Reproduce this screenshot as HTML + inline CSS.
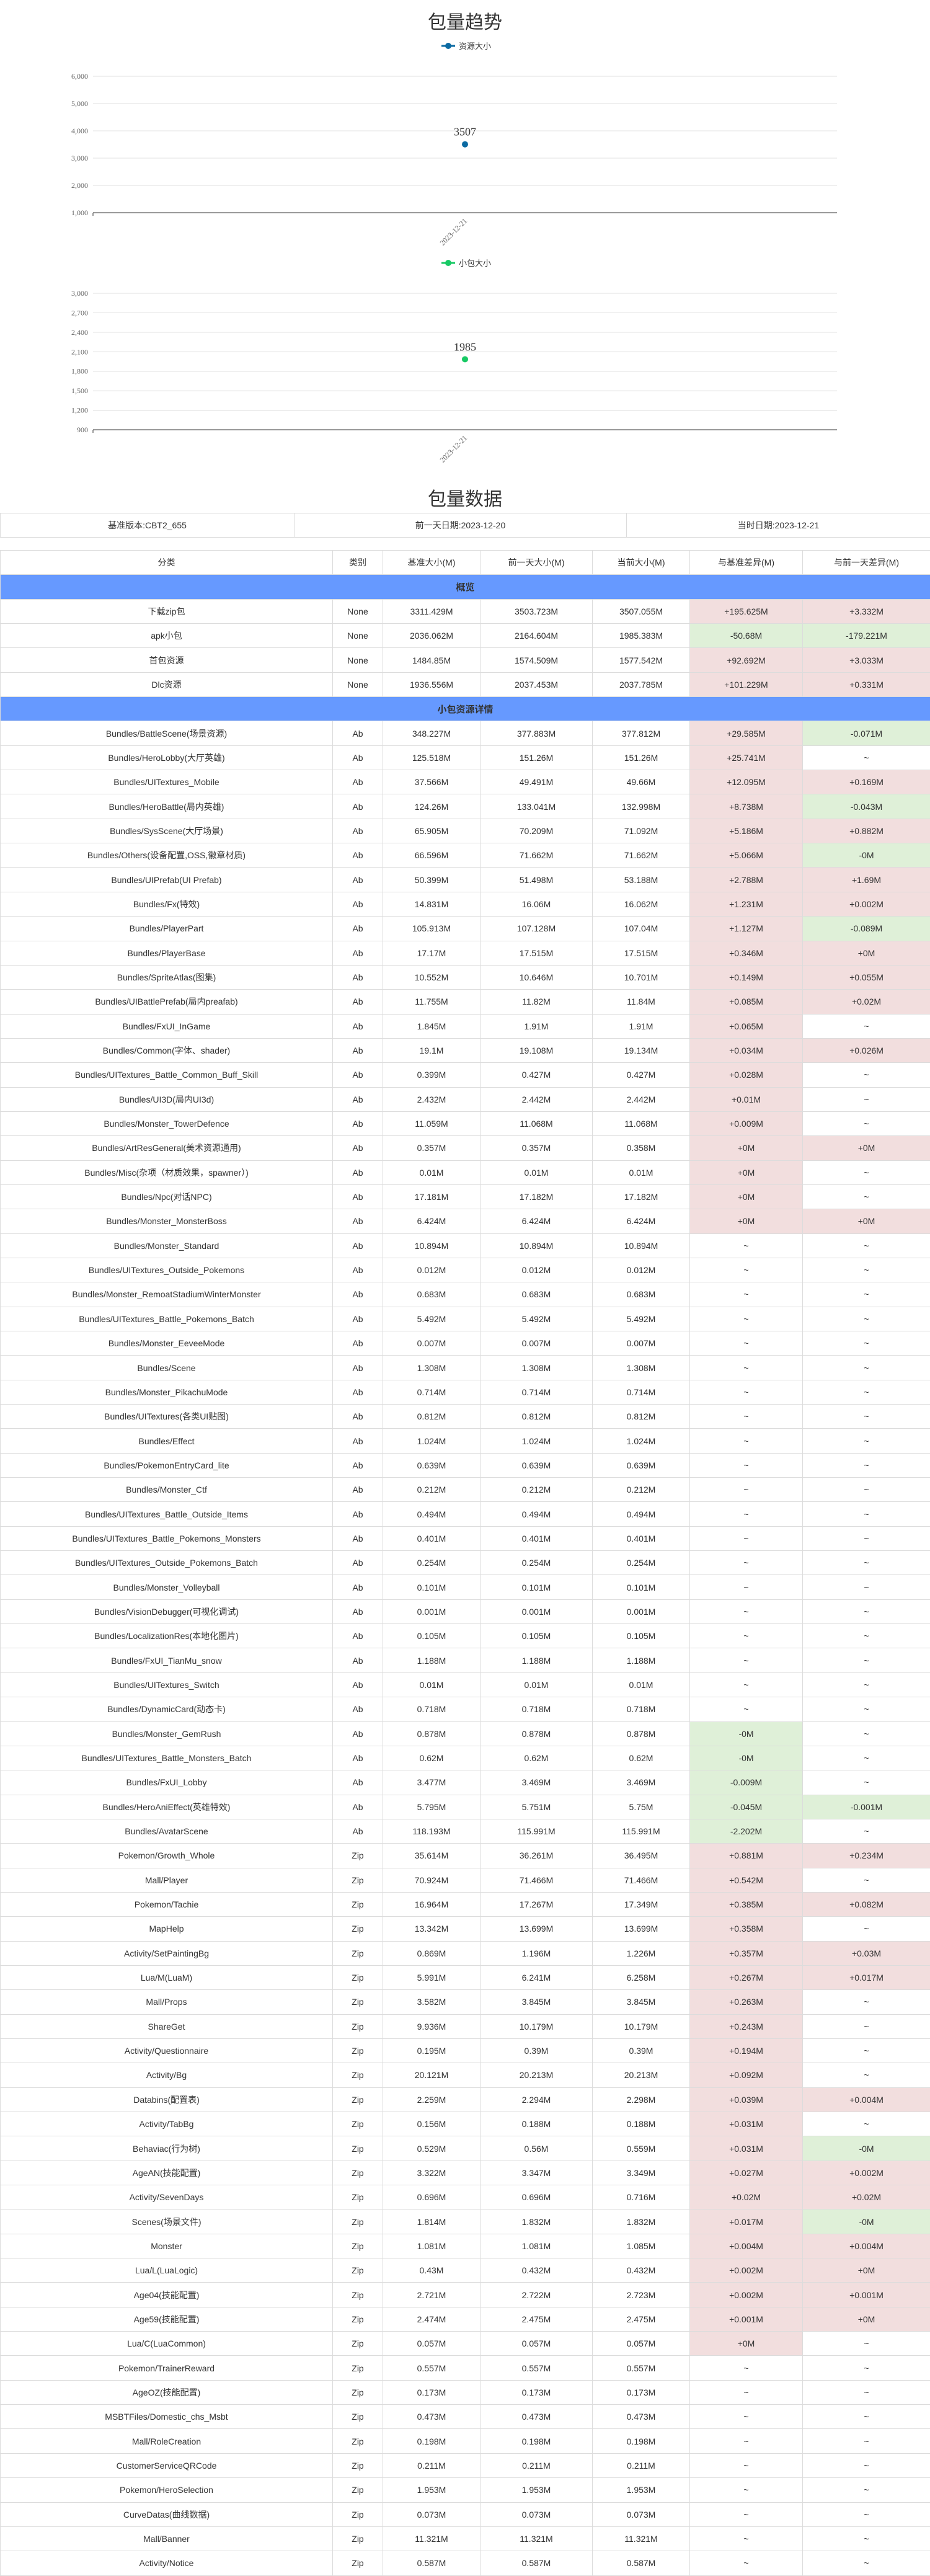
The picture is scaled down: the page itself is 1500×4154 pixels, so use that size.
<!DOCTYPE html>
<html><head><meta charset="utf-8">
<style>
body{margin:0;width:1500px;height:4100px;overflow:hidden;background:#fff;font-family:"Liberation Sans","Noto Sans CJK SC",sans-serif;color:#333}
h2{margin:0;position:absolute;left:0;width:1500px;text-align:center;font-weight:normal;font-size:30px;color:#333}
table{border-collapse:collapse;position:absolute;left:0;width:1500px;table-layout:fixed}
td,th{border:1px solid #dcdcdc;text-align:center;font-size:14px;font-weight:normal;padding:0;height:38.35px;color:#333;white-space:nowrap;overflow:hidden}
.sec td{background:#6699ff;font-weight:bold;font-size:15px}
.pos{background:#f2dede}.neg{background:#dff0d8}
</style></head><body>
<svg width="1500" height="750" style="position:absolute;left:0;top:0" font-family="Liberation Serif, Noto Sans CJK SC, serif">
<text x="750" y="46" text-anchor="middle" font-size="30" fill="#333" font-family="Liberation Sans, Noto Sans CJK SC, sans-serif">包量趋势</text>
<g id="c1"></g><g id="c2"></g>
</svg>
<h2 style="top:780px">包量数据</h2>
<table style="top:827px">
<colgroup><col style="width:474px"><col style="width:536px"><col style="width:490px"></colgroup>
<tr><td>基准版本:CBT2_655</td><td>前一天日期:2023-12-20</td><td>当时日期:2023-12-21</td></tr>
</table>
<table id="main" style="top:887px">
<colgroup><col style="width:536px"><col style="width:81px"><col style="width:157px"><col style="width:181px"><col style="width:157px"><col style="width:182px"><col style="width:206px"></colgroup>
<tr><th>分类</th><th>类别</th><th>基准大小(M)</th><th>前一天大小(M)</th><th>当前大小(M)</th><th>与基准差异(M)</th><th>与前一天差异(M)</th></tr>
</table>
<script>
const dates=["2023-12-21"];
const resSizes=[3507];
const apkSizes=[1985];
const ticks1=[1000,2000,3000,4000,5000,6000];
const ticks2=[900,1200,1500,1800,2100,2400,2700,3000];
const NS="http://www.w3.org/2000/svg";
function mk(tag,attrs,parent){const e=document.createElementNS(NS,tag);for(const k in attrs)e.setAttribute(k,attrs[k]);parent.appendChild(e);return e;}
function chart(g,legendY,top,bottom,ticks,vals,color,label){
  const x0=150,x1=1350,min=ticks[0],max=ticks[ticks.length-1];
  const y=v=>bottom-(v-min)/(max-min)*(bottom-top);
  const x=i=>x0+(i+0.5)*(x1-x0)/dates.length;
  const lg=mk('g',{},g);
  
  
  mk('line',{x1:712,x2:734,y1:legendY,y2:legendY,stroke:color,'stroke-width':3},lg);
  mk('circle',{cx:723,cy:legendY,r:5,fill:color},lg);
  const lt=mk('text',{x:740,y:legendY+5,'font-size':13,fill:'#333','font-family':'Liberation Sans, Noto Sans CJK SC, sans-serif'},lg);lt.textContent=label;
  ticks.forEach((t,i)=>{
    const gl=mk('line',{x1:x0,x2:x1,y1:y(t),y2:y(t),stroke:i==0?'#333':'#e0e0e0','stroke-width':1},g);
    
    
    const tt=mk('text',{x:142,y:y(t)+4,'text-anchor':'end','font-size':12,fill:'#666'},g);
    
    
    tt.textContent=t.toLocaleString('en-US');
  });
  mk('line',{x1:x0,x2:x0,y1:bottom,y2:bottom+5,stroke:'#333'},g);
  dates.forEach((d,i)=>{
    const xt=mk('text',{x:x(i)+4,y:bottom+14,'text-anchor':'end','font-size':12,fill:'#666',transform:`rotate(-45 ${x(i)+4} ${bottom+14})`},g);
    
    
    xt.textContent=d;
  });
  vals.forEach((v,i)=>{
    const c=mk('circle',{cx:x(i),cy:y(v),r:5,fill:color},g);
    
    
    const vt=mk('text',{x:x(i),y:y(v)-14,'text-anchor':'middle','font-size':18,fill:'#333'},g);
    
    
    vt.textContent=v;
  });
}
chart(document.getElementById('c1'),74,123,343,ticks1,resSizes,'#0b6aa2','资源大小');
chart(document.getElementById('c2'),424,473,693,ticks2,apkSizes,'#17c964','小包大小');

const overview=[
"下载zip包|None|3311.429M|3503.723M|3507.055M|+195.625M|+3.332M",
"apk小包|None|2036.062M|2164.604M|1985.383M|-50.68M|-179.221M",
"首包资源|None|1484.85M|1574.509M|1577.542M|+92.692M|+3.033M",
"Dlc资源|None|1936.556M|2037.453M|2037.785M|+101.229M|+0.331M"];
const details=[
"Bundles/BattleScene(场景资源)|Ab|348.227M|377.883M|377.812M|+29.585M|-0.071M",
"Bundles/HeroLobby(大厅英雄)|Ab|125.518M|151.26M|151.26M|+25.741M|~",
"Bundles/UITextures_Mobile|Ab|37.566M|49.491M|49.66M|+12.095M|+0.169M",
"Bundles/HeroBattle(局内英雄)|Ab|124.26M|133.041M|132.998M|+8.738M|-0.043M",
"Bundles/SysScene(大厅场景)|Ab|65.905M|70.209M|71.092M|+5.186M|+0.882M",
"Bundles/Others(设备配置,OSS,徽章材质)|Ab|66.596M|71.662M|71.662M|+5.066M|-0M",
"Bundles/UIPrefab(UI Prefab)|Ab|50.399M|51.498M|53.188M|+2.788M|+1.69M",
"Bundles/Fx(特效)|Ab|14.831M|16.06M|16.062M|+1.231M|+0.002M",
"Bundles/PlayerPart|Ab|105.913M|107.128M|107.04M|+1.127M|-0.089M",
"Bundles/PlayerBase|Ab|17.17M|17.515M|17.515M|+0.346M|+0M",
"Bundles/SpriteAtlas(图集)|Ab|10.552M|10.646M|10.701M|+0.149M|+0.055M",
"Bundles/UIBattlePrefab(局内preafab)|Ab|11.755M|11.82M|11.84M|+0.085M|+0.02M",
"Bundles/FxUI_InGame|Ab|1.845M|1.91M|1.91M|+0.065M|~",
"Bundles/Common(字体、shader)|Ab|19.1M|19.108M|19.134M|+0.034M|+0.026M",
"Bundles/UITextures_Battle_Common_Buff_Skill|Ab|0.399M|0.427M|0.427M|+0.028M|~",
"Bundles/UI3D(局内UI3d)|Ab|2.432M|2.442M|2.442M|+0.01M|~",
"Bundles/Monster_TowerDefence|Ab|11.059M|11.068M|11.068M|+0.009M|~",
"Bundles/ArtResGeneral(美术资源通用)|Ab|0.357M|0.357M|0.358M|+0M|+0M",
"Bundles/Misc(杂项（材质效果，spawner）)|Ab|0.01M|0.01M|0.01M|+0M|~",
"Bundles/Npc(对话NPC)|Ab|17.181M|17.182M|17.182M|+0M|~",
"Bundles/Monster_MonsterBoss|Ab|6.424M|6.424M|6.424M|+0M|+0M",
"Bundles/Monster_Standard|Ab|10.894M|10.894M|10.894M|~|~",
"Bundles/UITextures_Outside_Pokemons|Ab|0.012M|0.012M|0.012M|~|~",
"Bundles/Monster_RemoatStadiumWinterMonster|Ab|0.683M|0.683M|0.683M|~|~",
"Bundles/UITextures_Battle_Pokemons_Batch|Ab|5.492M|5.492M|5.492M|~|~",
"Bundles/Monster_EeveeMode|Ab|0.007M|0.007M|0.007M|~|~",
"Bundles/Scene|Ab|1.308M|1.308M|1.308M|~|~",
"Bundles/Monster_PikachuMode|Ab|0.714M|0.714M|0.714M|~|~",
"Bundles/UITextures(各类UI贴图)|Ab|0.812M|0.812M|0.812M|~|~",
"Bundles/Effect|Ab|1.024M|1.024M|1.024M|~|~",
"Bundles/PokemonEntryCard_lite|Ab|0.639M|0.639M|0.639M|~|~",
"Bundles/Monster_Ctf|Ab|0.212M|0.212M|0.212M|~|~",
"Bundles/UITextures_Battle_Outside_Items|Ab|0.494M|0.494M|0.494M|~|~",
"Bundles/UITextures_Battle_Pokemons_Monsters|Ab|0.401M|0.401M|0.401M|~|~",
"Bundles/UITextures_Outside_Pokemons_Batch|Ab|0.254M|0.254M|0.254M|~|~",
"Bundles/Monster_Volleyball|Ab|0.101M|0.101M|0.101M|~|~",
"Bundles/VisionDebugger(可视化调试)|Ab|0.001M|0.001M|0.001M|~|~",
"Bundles/LocalizationRes(本地化图片)|Ab|0.105M|0.105M|0.105M|~|~",
"Bundles/FxUI_TianMu_snow|Ab|1.188M|1.188M|1.188M|~|~",
"Bundles/UITextures_Switch|Ab|0.01M|0.01M|0.01M|~|~",
"Bundles/DynamicCard(动态卡)|Ab|0.718M|0.718M|0.718M|~|~",
"Bundles/Monster_GemRush|Ab|0.878M|0.878M|0.878M|-0M|~",
"Bundles/UITextures_Battle_Monsters_Batch|Ab|0.62M|0.62M|0.62M|-0M|~",
"Bundles/FxUI_Lobby|Ab|3.477M|3.469M|3.469M|-0.009M|~",
"Bundles/HeroAniEffect(英雄特效)|Ab|5.795M|5.751M|5.75M|-0.045M|-0.001M",
"Bundles/AvatarScene|Ab|118.193M|115.991M|115.991M|-2.202M|~",
"Pokemon/Growth_Whole|Zip|35.614M|36.261M|36.495M|+0.881M|+0.234M",
"Mall/Player|Zip|70.924M|71.466M|71.466M|+0.542M|~",
"Pokemon/Tachie|Zip|16.964M|17.267M|17.349M|+0.385M|+0.082M",
"MapHelp|Zip|13.342M|13.699M|13.699M|+0.358M|~",
"Activity/SetPaintingBg|Zip|0.869M|1.196M|1.226M|+0.357M|+0.03M",
"Lua/M(LuaM)|Zip|5.991M|6.241M|6.258M|+0.267M|+0.017M",
"Mall/Props|Zip|3.582M|3.845M|3.845M|+0.263M|~",
"ShareGet|Zip|9.936M|10.179M|10.179M|+0.243M|~",
"Activity/Questionnaire|Zip|0.195M|0.39M|0.39M|+0.194M|~",
"Activity/Bg|Zip|20.121M|20.213M|20.213M|+0.092M|~",
"Databins(配置表)|Zip|2.259M|2.294M|2.298M|+0.039M|+0.004M",
"Activity/TabBg|Zip|0.156M|0.188M|0.188M|+0.031M|~",
"Behaviac(行为树)|Zip|0.529M|0.56M|0.559M|+0.031M|-0M",
"AgeAN(技能配置)|Zip|3.322M|3.347M|3.349M|+0.027M|+0.002M",
"Activity/SevenDays|Zip|0.696M|0.696M|0.716M|+0.02M|+0.02M",
"Scenes(场景文件)|Zip|1.814M|1.832M|1.832M|+0.017M|-0M",
"Monster|Zip|1.081M|1.081M|1.085M|+0.004M|+0.004M",
"Lua/L(LuaLogic)|Zip|0.43M|0.432M|0.432M|+0.002M|+0M",
"Age04(技能配置)|Zip|2.721M|2.722M|2.723M|+0.002M|+0.001M",
"Age59(技能配置)|Zip|2.474M|2.475M|2.475M|+0.001M|+0M",
"Lua/C(LuaCommon)|Zip|0.057M|0.057M|0.057M|+0M|~",
"Pokemon/TrainerReward|Zip|0.557M|0.557M|0.557M|~|~",
"AgeOZ(技能配置)|Zip|0.173M|0.173M|0.173M|~|~",
"MSBTFiles/Domestic_chs_Msbt|Zip|0.473M|0.473M|0.473M|~|~",
"Mall/RoleCreation|Zip|0.198M|0.198M|0.198M|~|~",
"CustomerServiceQRCode|Zip|0.211M|0.211M|0.211M|~|~",
"Pokemon/HeroSelection|Zip|1.953M|1.953M|1.953M|~|~",
"CurveDatas(曲线数据)|Zip|0.073M|0.073M|0.073M|~|~",
"Mall/Banner|Zip|11.321M|11.321M|11.321M|~|~",
"Activity/Notice|Zip|0.587M|0.587M|0.587M|~|~"];
const tbl=document.getElementById('main');
function sec(t,name){
  const tr=tbl.insertRow();tr.className='sec';
  
  
  const td=tr.insertCell();td.colSpan=7;td.textContent=t;
}
function rows(list){
  list.forEach(s=>{
    const p=s.split('|');const tr=tbl.insertRow();
    
    
    p.forEach((v,i)=>{const td=tr.insertCell();td.textContent=v;
      if(i>=5){if(v[0]=='+')td.className='pos';else if(v[0]=='-')td.className='neg';}});
  });
}
sec('概览','overview-section');rows(overview);
sec('小包资源详情','detail-section');rows(details);
</script>
</body></html>
